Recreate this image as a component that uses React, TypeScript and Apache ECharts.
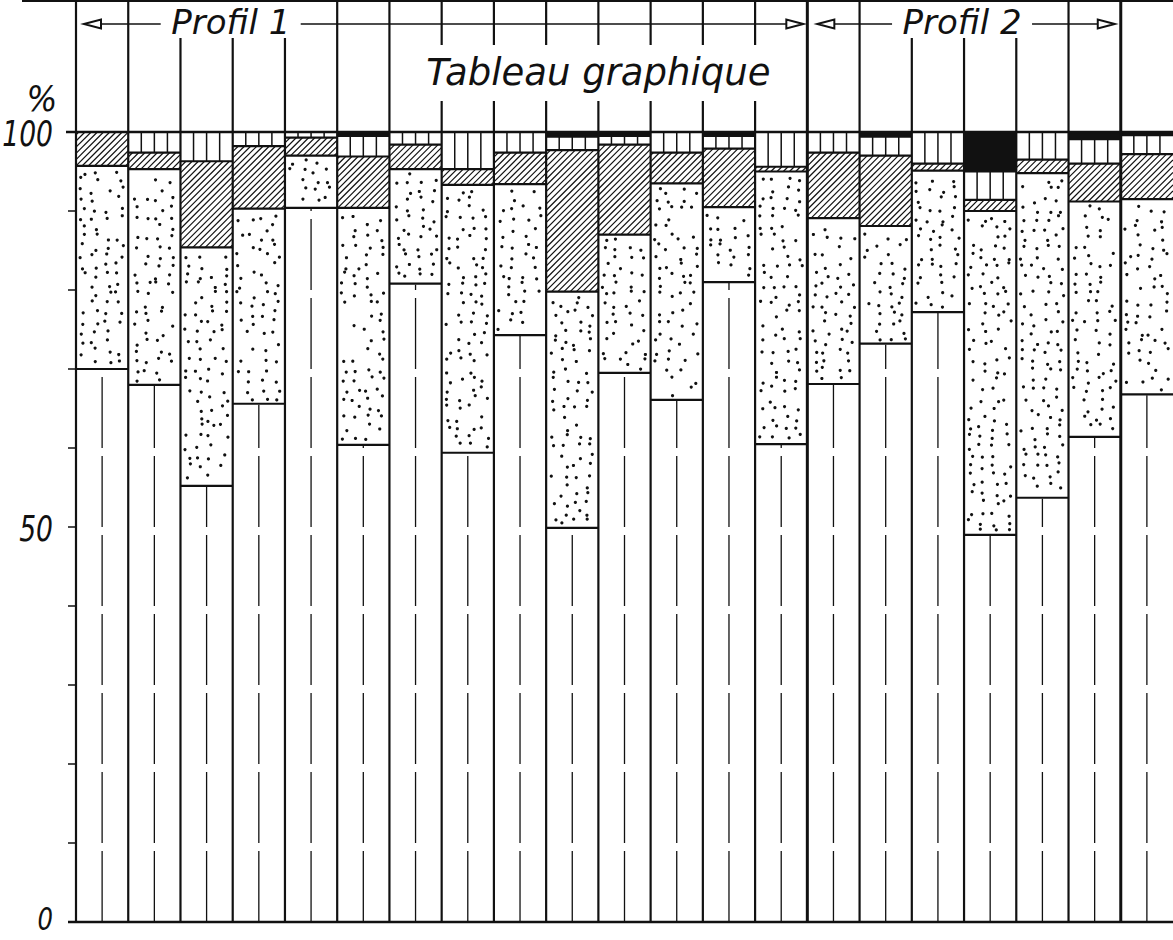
import React, { useEffect, useRef } from "react";
import * as echarts from "echarts";

// ---- data (percent of each layer, bottom to top) ----
const columns = ["1", "2", "3", "4", "5", "6", "7", "8", "9", "10", "11", "12", "13", "14", "15", "16", "17", "18", "19", "20", "21"];
const whiteLayer = [70.0, 68.0, 55.2, 65.6, 90.4, 60.4, 80.8, 59.4, 74.3, 49.9, 69.5, 66.1, 81.0, 60.5, 68.1, 73.2, 77.2, 49.0, 53.7, 61.4, 66.8];
const dottedLayer = [25.7, 27.3, 30.2, 24.7, 6.6, 30.0, 14.5, 33.9, 19.1, 29.9, 17.5, 27.4, 9.5, 34.5, 21.0, 14.9, 17.9, 41.0, 41.1, 29.8, 24.7];
const hatchedLayer = [4.3, 2.1, 10.9, 7.9, 2.3, 6.5, 3.1, 2.0, 4.0, 17.9, 11.4, 3.9, 7.4, 0.6, 8.3, 8.9, 0.9, 1.4, 1.7, 4.8, 5.7];
const stripedLayer = [0, 2.6, 3.7, 1.8, 0.7, 2.6, 1.6, 4.7, 2.6, 1.7, 1.1, 2.6, 1.6, 4.4, 2.6, 2.4, 4.0, 3.6, 3.5, 3.1, 2.4];
const blackLayer = [0, 0, 0, 0, 0, 0.5, 0, 0, 0, 0.6, 0.5, 0, 0.5, 0, 0, 0.6, 0, 5.0, 0, 0.9, 0.4];

const profileNames = ["Profil 1", "Profil 2"];
const profileStart = [0, 14];
const profileEnd = [14, 20];
const profileLabelBoundary = [3, 17];
const titleText = "Tableau graphique";
const titleBoundary = 10;
const yLabels = [0, 50, 100];
const unitText = "%";

const INK = "#111";
const FONT = '"DejaVu Sans", sans-serif';

function texHash(a: number, b: number, c: number) {
  let h = Math.imul(a + 1, 73856093) ^ Math.imul(b + 7, 19349663) ^ Math.imul(c + 3, 83492791);
  h = Math.imul(h ^ (h >>> 13), 1274126177);
  h ^= h >>> 16;
  return (h >>> 0) / 4294967296;
}

function line(x1: number, y1: number, x2: number, y2: number, w: number) {
  return { type: "line", shape: { x1, y1, x2, y2 }, style: { stroke: INK, lineWidth: w } };
}

function renderColumn(params: any, api: any) {
  const i = api.value(0);
  const vals = [api.value(1), api.value(2), api.value(3), api.value(4), api.value(5)];
  const xc = api.coord([i, 0])[0];
  const bw = api.size([1, 0])[0];
  const x0 = xc - bw / 2;
  const x1 = xc + bw / 2;
  const y = (v: number) => api.coord([i, v])[1];
  const cum = [0];
  vals.forEach((v) => cum.push(cum[cum.length - 1] + v));
  const children: any[] = [];

  // white layer: dashed centre line, broken at every 10 %
  const whiteTop = y(cum[1]);
  for (let k = 0; k < 10; k++) {
    const bot = y(k * 10);
    let top = y((k + 1) * 10) + 8;
    if (top < whiteTop + 1) top = whiteTop + 1;
    if (bot - top > 1) children.push(line(xc, bot, xc, top, 1.3));
  }

  // dotted layer
  {
    const yT = y(cum[2]);
    const yB = y(cum[1]);
    const sx = 12.5;
    const sy = 9.5;
    for (let j = Math.floor(yT / sy); j <= Math.ceil(yB / sy); j++) {
      for (let q = 0; q < 5; q++) {
        if (texHash(i, q, j * 3 + 11) < 0.15) continue;
        const cx = x0 + 6 + q * sx + (texHash(i, q, j) - 0.5) * 8;
        const cy = j * sy + (texHash(i, q, j + 5000) - 0.5) * 7;
        if (cx < x0 + 4 || cx > x1 - 4 || cy < yT + 4 || cy > yB - 3.5) continue;
        children.push({ type: "circle", shape: { cx, cy, r: 1.6 }, style: { fill: INK } });
      }
    }
  }

  // hatched layer
  {
    const yT = y(cum[3]);
    const yB = y(cum[2]);
    if (yB - yT > 0.5) {
      const s = 6.2;
      const cStart = Math.ceil((x0 + yT) / s) * s;
      for (let c = cStart; c <= x1 + yB; c += s) {
        const xa = Math.max(x0, c - yB);
        const xb = Math.min(x1, c - yT);
        if (xb - xa > 0.3) children.push(line(xa, c - xa, xb, c - xb, 1.2));
      }
    }
  }

  // striped layer (four cells)
  {
    const yT = y(cum[4]);
    const yB = y(cum[3]);
    if (yB - yT > 0.5) {
      for (let q = 1; q < 4; q++) {
        const xs = x0 + (bw * q) / 4;
        children.push(line(xs, yB, xs, yT, 1.5));
      }
    }
  }

  // black layer
  {
    const yT = y(cum[5]);
    const yB = y(cum[4]);
    if (yB - yT > 0.3) children.push({ type: "rect", shape: { x: x0, y: yT, width: bw, height: yB - yT }, style: { fill: INK } });
  }

  // layer boundaries
  for (let k = 1; k <= 4; k++) {
    if (cum[k] < 99.9) children.push(line(x0, y(cum[k]), x1, y(cum[k]), 2.2));
  }

  return { type: "group", children };
}

function arrowHead(tipX: number, yA: number, dir: number) {
  return {
    type: "polygon",
    shape: { points: [[tipX, yA], [tipX + dir * 17, yA - 4.5], [tipX + dir * 17, yA + 4.5]] },
    style: { fill: "#fff", stroke: INK, lineWidth: 2 },
  };
}

function renderFrame(params: any, api: any) {
  const bw = api.size([1, 0])[0];
  const xFirst = api.coord([0, 0])[0] - bw / 2;
  const xB = (k: number) => xFirst + k * bw;
  const y0 = api.coord([0, 0])[1];
  const y100 = api.coord([0, 100])[1];
  const top = y100 - 131;
  const children: any[] = [];
  const n = columns.length;

  // top line, 100 line, base line
  children.push(line(22, top, xB(n), top, 2));
  children.push(line(xB(0) - 10, y100, xB(n), y100, 2.5));
  children.push(line(xB(0) - 8, y0, xB(n), y0, 2.5));

  // header gaps
  const profilGap = new Set<number>();
  profileLabelBoundary.forEach((b) => {
    for (let k = 0; k <= n; k++) if (Math.abs(xB(k) - xB(b)) < 72) profilGap.add(k);
  });
  const titleGap = new Set<number>();
  for (let k = 0; k <= n; k++) if (Math.abs(xB(k) - xB(titleBoundary)) < 175) titleGap.add(k);

  // column boundaries
  for (let k = 0; k < n; k++) {
    const w = k === 14 || k === 20 ? 3 : 2.2;
    const x = xB(k);
    children.push(line(x, y0, x, y100, w));
    if (profilGap.has(k)) {
      children.push(line(x, top + 37, x, y100, w));
    } else if (titleGap.has(k)) {
      children.push(line(x, top, x, top + 44, w));
      children.push(line(x, top + 100, x, y100, w));
    } else {
      children.push(line(x, top, x, y100, w));
    }
  }

  // profile arrows and names
  const yA = top + 23;
  const leftOff = [8, 10];
  const rightOff = [4, 6];
  profileNames.forEach((name, p) => {
    const lt = xB(profileStart[p]) + leftOff[p];
    const rt = xB(profileEnd[p]) - rightOff[p];
    const cx = xB(profileLabelBoundary[p]);
    children.push(line(lt + 17, yA, cx - 72, yA, 1.6));
    children.push(line(cx + 68, yA, rt - 17, yA, 1.6));
    children.push(arrowHead(lt, yA, 1));
    children.push(arrowHead(rt, yA, -1));
    children.push({
      type: "text",
      x: cx - 2,
      y: top + 21,
      style: { text: name, x: 0, y: 0, align: "center", verticalAlign: "middle", fill: INK, fontSize: 34, fontStyle: "italic", fontFamily: FONT },
    });
  });

  // title
  children.push({
    type: "text",
    x: xB(titleBoundary),
    y: top + 71,
    style: { text: titleText, x: 0, y: 0, align: "center", verticalAlign: "middle", fill: INK, fontSize: 37, fontStyle: "italic", fontFamily: FONT },
  });

  // y labels
  yLabels.forEach((v) => {
    const py = api.coord([0, v])[1];
    children.push({
      type: "text",
      x: xB(0) - 23,
      y: v === 0 ? py - 3 : py + 2,
      scaleX: 0.76,
      style: {
        text: String(v),
        x: 0,
        y: 0,
        align: "right",
        verticalAlign: "middle",
        fill: INK,
        fontSize: v === 0 ? 32 : 35,
        fontStyle: "italic",
        fontFamily: FONT,
      },
    });
  });
  children.push({
    type: "text",
    x: xB(0) - 34,
    y: y100 - 34,
    scaleX: 0.9,
    style: { text: unitText, x: 0, y: 0, align: "center", verticalAlign: "middle", fill: INK, fontSize: 36, fontStyle: "italic", fontFamily: FONT },
  });

  return { type: "group", children };
}

export default function App() {
  const ref = useRef<HTMLDivElement>(null);
  useEffect(() => {
    const chart = echarts.init(ref.current!, null, { renderer: "svg" });
    const data = columns.map((c, i) => [i, whiteLayer[i], dottedLayer[i], hatchedLayer[i], stripedLayer[i], blackLayer[i]]);
    chart.setOption({
      animation: false,
      backgroundColor: "#fff",
      grid: { left: 76, right: 0, top: 132, bottom: 18 },
      xAxis: { type: "category", data: columns, show: false, boundaryGap: true },
      yAxis: {
        type: "value",
        min: 0,
        max: 100,
        interval: 10,
        axisLine: { show: false },
        axisTick: { show: true, length: 8, lineStyle: { color: INK, width: 1.5 } },
        axisLabel: { show: false },
        splitLine: { show: false },
      },
      series: [
        { type: "custom", name: "colonnes", data, encode: { x: 0, y: 1 }, renderItem: renderColumn, z: 2, silent: true },
        { type: "custom", name: "cadre", data: [[0, 0]], encode: { x: 0, y: 1 }, renderItem: renderFrame, z: 3, silent: true },
      ],
    });
    return () => chart.dispose();
  }, []);
  return <div ref={ref} style={{ position: "absolute", left: 0, top: 0, width: 1173, height: 940 }} />;
}
